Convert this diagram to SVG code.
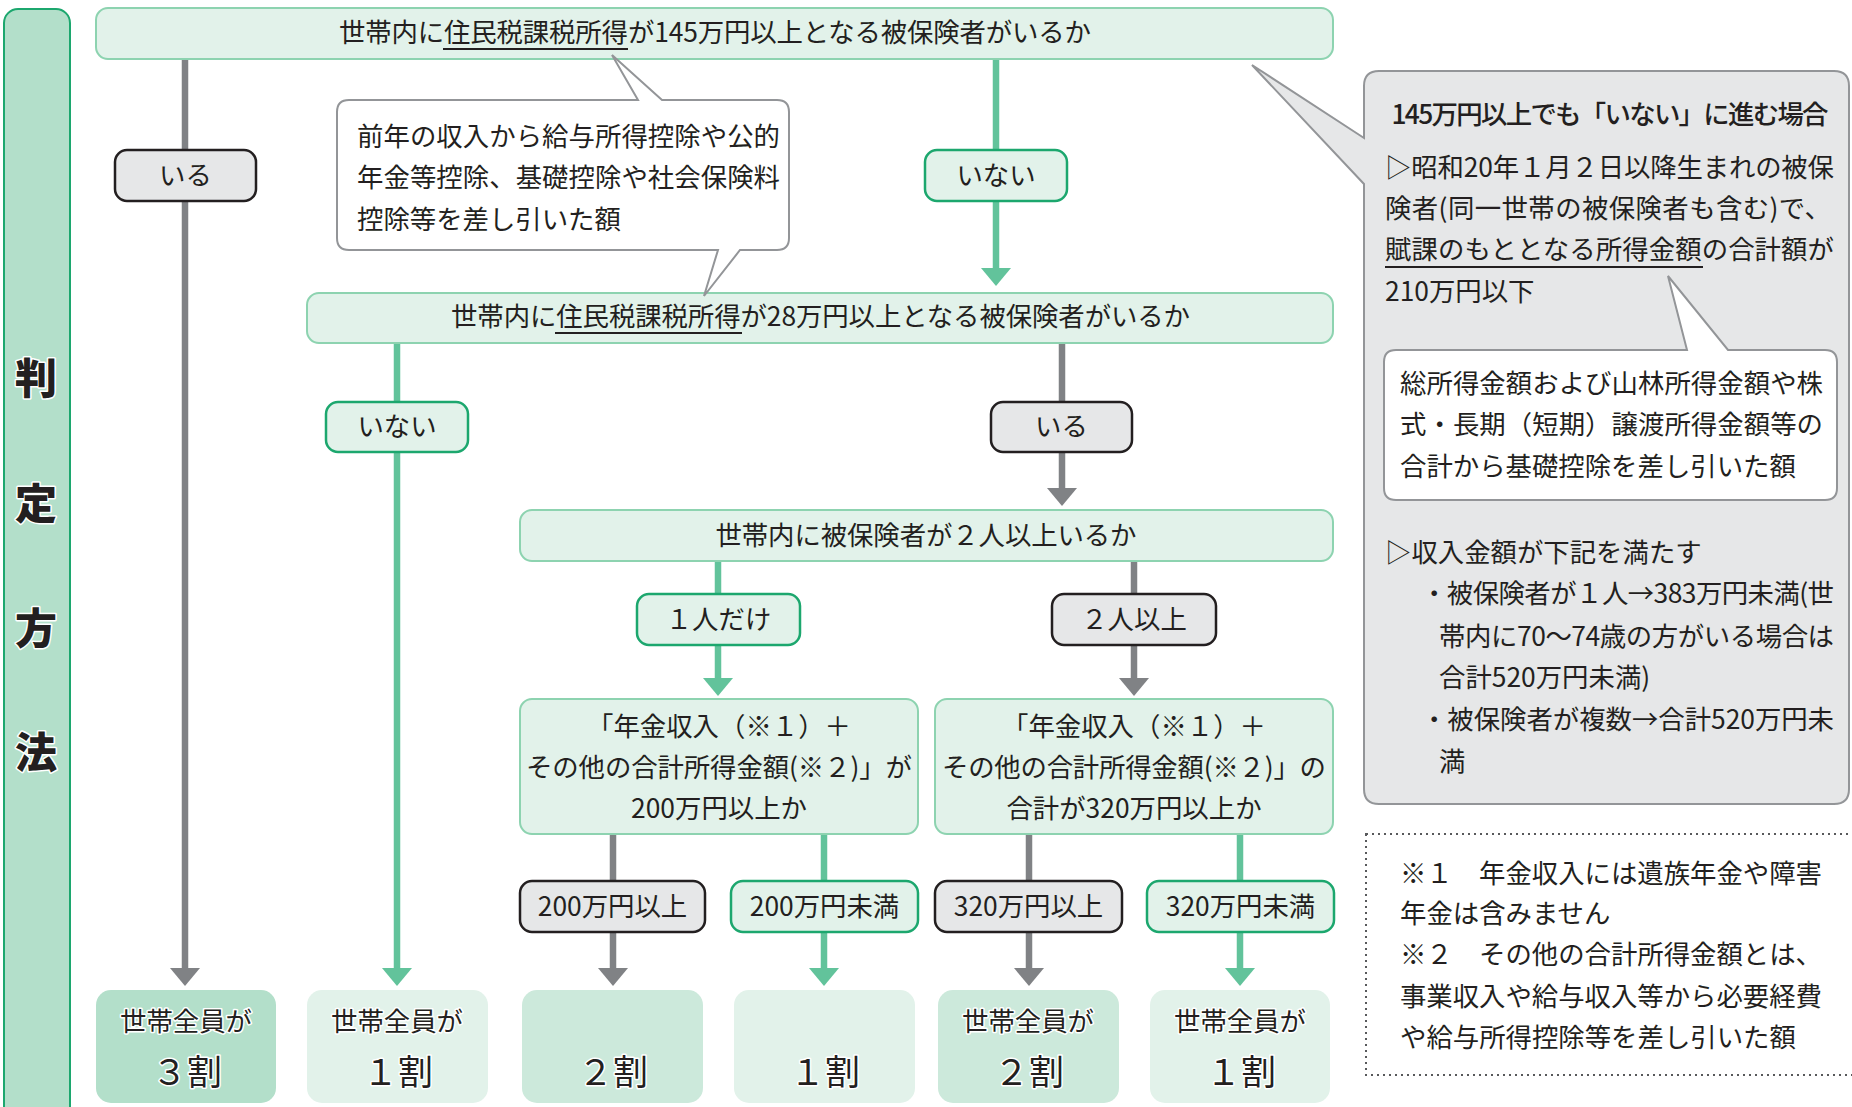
<svg xmlns="http://www.w3.org/2000/svg" width="1852" height="1107" viewBox="0 0 1852 1107">
<defs>
<marker id="ag" markerUnits="userSpaceOnUse" viewBox="0 0 18 30" markerWidth="18" markerHeight="30" refX="1" refY="15" orient="auto"><path d="M0,0 L18,15 L0,30 Z" fill="#62c39b"/></marker>
<marker id="ay" markerUnits="userSpaceOnUse" viewBox="0 0 18 30" markerWidth="18" markerHeight="30" refX="1" refY="15" orient="auto"><path d="M0,0 L18,15 L0,30 Z" fill="#808285"/></marker>
</defs>
<style>
text { font-family: "Noto Sans CJK JP", "Noto Sans", sans-serif; font-size: 26.4px; fill: #231f20; dominant-baseline: central; transform: translateY(-2.5px); }
.c { text-anchor: middle; }
.box { fill: #e2f2ea; stroke: #8dd3b0; stroke-width: 2; }
.lg { fill: #e2f2ea; stroke: #1ca76e; stroke-width: 2.5; }
.ly { fill: #e6e7e8; stroke: #231f20; stroke-width: 2.5; }
.eg { fill: none; stroke: #62c39b; stroke-width: 6.5; marker-end: url(#ag); }
.ey { fill: none; stroke: #808285; stroke-width: 6.5; marker-end: url(#ay); }
.ul { stroke: #231f20; stroke-width: 1.8; }
.r1 { fill: #b3dfca; }
.r2 { fill: #cce9db; }
.r3 { fill: #e2f2ea; }
.halo { stroke: #ffffff; stroke-width: 3; paint-order: stroke; stroke-linejoin: round; }
.big { font-size: 35px; }
.side { font-size: 42px; font-weight: 900; }
.call { fill: #ffffff; stroke: #939598; stroke-width: 2; }
</style>

<g id="sidebar">
<rect x="4" y="9" width="66" height="1130" rx="14" fill="#b3dfca" stroke="#1ca76e" stroke-width="2"/>
<text class="c side halo" x="36" y="378">判</text>
<text class="c side halo" x="36" y="503">定</text>
<text class="c side halo" x="36" y="628">方</text>
<text class="c side halo" x="36" y="752">法</text>
</g>

<g id="connectors">
<path class="ey" d="M185,59 V969"/>
<path class="eg" d="M996,59 V269"/>
<path class="eg" d="M397,343 V969"/>
<path class="ey" d="M1062,343 V489"/>
<path class="eg" d="M718,561 V679"/>
<path class="ey" d="M1134,561 V679"/>
<path class="ey" d="M613,834 V969"/>
<path class="eg" d="M824,834 V969"/>
<path class="ey" d="M1029,834 V969"/>
<path class="eg" d="M1240,834 V969"/>
<g id="lbl-iru1"><rect class="ly" x="115" y="150" width="141" height="51" rx="12"/><text class="c" x="185.5" y="175.5">いる</text></g>
<g id="lbl-inai1"><rect class="lg" x="925" y="150" width="142" height="51" rx="12"/><text class="c" x="996" y="175.5">いない</text></g>
<g id="lbl-inai2"><rect class="lg" x="326" y="402" width="142" height="50" rx="12"/><text class="c" x="397" y="427">いない</text></g>
<g id="lbl-iru2"><rect class="ly" x="991" y="402" width="141" height="50" rx="12"/><text class="c" x="1061.5" y="427">いる</text></g>
<g id="lbl-one"><rect class="lg" x="637" y="594" width="163" height="51" rx="12"/><text class="c" x="718.5" y="619.5">１人だけ</text></g>
<g id="lbl-two"><rect class="ly" x="1052" y="594" width="164" height="51" rx="12"/><text class="c" x="1134" y="619.5">２人以上</text></g>
<g id="lbl-200a"><rect class="ly" x="520" y="881" width="185" height="51" rx="12"/><text class="c" x="612.5" y="906.5">200万円以上</text></g>
<g id="lbl-200b"><rect class="lg" x="731" y="881" width="187" height="51" rx="12"/><text class="c" x="824.5" y="906.5">200万円未満</text></g>
<g id="lbl-320a"><rect class="ly" x="935" y="881" width="187" height="51" rx="12"/><text class="c" x="1028.5" y="906.5">320万円以上</text></g>
<g id="lbl-320b"><rect class="lg" x="1147" y="881" width="187" height="51" rx="12"/><text class="c" x="1240.5" y="906.5">320万円未満</text></g>
</g>

<g id="n-q1">
<rect class="box" x="96" y="8" width="1237" height="51" rx="12"/>
<text x="339" y="33" textLength="752">世帯内に住民税課税所得が145万円以上となる被保険者がいるか</text>
<line class="ul" x1="443" y1="49" x2="628" y2="49"/>
</g>

<g id="n-q2">
<rect class="box" x="307" y="293" width="1026" height="50" rx="12"/>
<text x="451" y="317" textLength="739">世帯内に住民税課税所得が28万円以上となる被保険者がいるか</text>
<line class="ul" x1="555" y1="333" x2="742" y2="333"/>
</g>

<g id="n-q3">
<rect class="box" x="520" y="510" width="813" height="51" rx="12"/>
<text class="c" x="926" y="536" textLength="421">世帯内に被保険者が２人以上いるか</text>
</g>

<g id="n-q4a">
<rect class="box" x="520" y="699" width="398" height="135" rx="12"/>
<text class="c" x="719" y="727">「年金収入（※１）＋</text>
<text class="c" x="719" y="768" textLength="386">その他の合計所得金額(※２)」が</text>
<text class="c" x="719" y="809">200万円以上か</text>
</g>

<g id="n-q4b">
<rect class="box" x="935" y="699" width="398" height="135" rx="12"/>
<text class="c" x="1134" y="727">「年金収入（※１）＋</text>
<text class="c" x="1134" y="768" textLength="384">その他の合計所得金額(※２)」の</text>
<text class="c" x="1134" y="809">合計が320万円以上か</text>
</g>

<g id="n-r1"><rect class="r1" x="96" y="990" width="180" height="113" rx="15"/><text class="c halo" x="186" y="1022">世帯全員が</text><text class="c big halo" x="187" y="1072">３割</text></g>
<g id="n-r2"><rect class="r3" x="307" y="990" width="181" height="113" rx="15"/><text class="c halo" x="397" y="1022">世帯全員が</text><text class="c big halo" x="398" y="1072">１割</text></g>
<g id="n-r3"><rect class="r2" x="522" y="990" width="181" height="113" rx="15"/><text class="c big halo" x="613" y="1072">２割</text></g>
<g id="n-r4"><rect class="r3" x="734" y="990" width="181" height="113" rx="15"/><text class="c big halo" x="825" y="1072">１割</text></g>
<g id="n-r5"><rect class="r2" x="938" y="990" width="181" height="113" rx="15"/><text class="c halo" x="1028" y="1022">世帯全員が</text><text class="c big halo" x="1029" y="1072">２割</text></g>
<g id="n-r6"><rect class="r3" x="1150" y="990" width="180" height="113" rx="15"/><text class="c halo" x="1240" y="1022">世帯全員が</text><text class="c big halo" x="1241" y="1072">１割</text></g>

<g id="n-note1">
<path class="call" d="M349,100 H638 L612,55 L662,100 H777 Q789,100 789,112 V238 Q789,250 777,250 H740 L704,296 L718,250 H349 Q337,250 337,238 V112 Q337,100 349,100 Z"/>
<text x="357" y="137" textLength="423">前年の収入から給与所得控除や公的</text>
<text x="357" y="178" textLength="423">年金等控除、基礎控除や社会保険料</text>
<text x="357" y="220">控除等を差し引いた額</text>
</g>

<g id="n-panel">
<path d="M1379,71 H1834 Q1849,71 1849,86 V789 Q1849,804 1834,804 H1379 Q1364,804 1364,789 V184 L1252,65 L1364,138 V86 Q1364,71 1379,71 Z" fill="#e6e7e8" stroke="#939598" stroke-width="2"/>
<text class="c" x="1610" y="115" textLength="437" font-weight="500">145万円以上でも「いない」に進む場合</text>
<text x="1385" y="168" textLength="449">▷昭和20年１月２日以降生まれの被保</text>
<text x="1385" y="209" textLength="446">険者(同一世帯の被保険者も含む)で、</text>
<text x="1385" y="250" textLength="449">賦課のもととなる所得金額の合計額が</text>
<line class="ul" x1="1385" y1="267" x2="1703" y2="267"/>
<text x="1385" y="292">210万円以下</text>
<text x="1385" y="553">▷収入金額が下記を満たす</text>
<text x="1421" y="594" textLength="413">・被保険者が１人→383万円未満(世</text>
<text x="1439" y="637" textLength="395">帯内に70〜74歳の方がいる場合は</text>
<text x="1439" y="678">合計520万円未満)</text>
<text x="1421" y="720" textLength="413">・被保険者が複数→合計520万円未</text>
<text x="1439" y="762">満</text>
</g>

<g id="n-note2">
<path class="call" d="M1396,350 H1687 L1668,276 L1728,350 H1825 Q1837,350 1837,362 V488 Q1837,500 1825,500 H1396 Q1384,500 1384,488 V362 Q1384,350 1396,350 Z"/>
<text x="1400" y="384" textLength="423">総所得金額および山林所得金額や株</text>
<text x="1400" y="425" textLength="423">式・長期（短期）譲渡所得金額等の</text>
<text x="1400" y="467">合計から基礎控除を差し引いた額</text>
</g>

<g id="n-foot">
<rect x="1366" y="834" width="492" height="241" fill="none" stroke="#58595b" stroke-width="2" stroke-dasharray="2 4"/>
<text x="1400" y="874" textLength="422">※１　年金収入には遺族年金や障害</text>
<text x="1400" y="914">年金は含みません</text>
<text x="1400" y="955" textLength="422">※２　その他の合計所得金額とは、</text>
<text x="1400" y="997" textLength="422">事業収入や給与収入等から必要経費</text>
<text x="1400" y="1038">や給与所得控除等を差し引いた額</text>
</g>
</svg>
